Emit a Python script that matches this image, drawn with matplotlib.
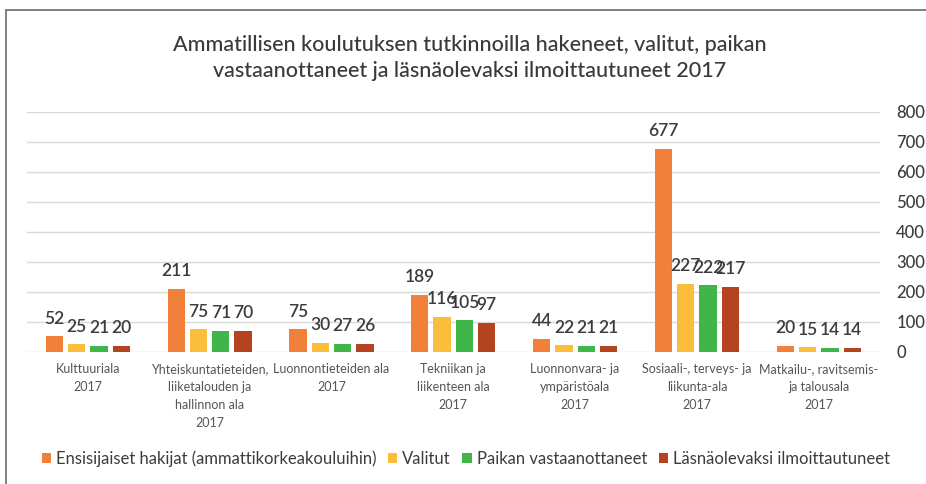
import numpy as np
import matplotlib.pyplot as plt
from matplotlib.patches import Rectangle

# data
categories = ['Kulttuuriala\n2017',
              'Yhteiskuntatieteiden,\nliiketalouden ja\nhallinnon ala\n2017',
              'Luonnontieteiden ala\n2017',
              'Tekniikan ja\nliikenteen ala\n2017',
              'Luonnonvara- ja\nympäristöala\n2017',
              'Sosiaali-, terveys- ja\nliikunta-ala\n2017',
              'Matkailu-, ravitsemis-\nja talousala\n2017']
ensisijaiset = [52, 211, 75, 189, 44, 677, 20]
valitut = [25, 75, 30, 116, 22, 227, 15]
vastaanottaneet = [21, 71, 27, 105, 21, 222, 14]
lasna = [20, 70, 26, 97, 21, 217, 14]
series_names = ['Ensisijaiset hakijat (ammattikorkeakouluihin)', 'Valitut',
                'Paikan vastaanottaneet', 'Läsnäolevaksi ilmoittautuneet']
yticks = [0, 100, 200, 300, 400, 500, 600, 700, 800]

title = ('Ammatillisen koulutuksen tutkinnoilla hakeneet, valitut, paikan\n'
         'vastaanottaneet ja läsnäolevaksi ilmoittautuneet 2017')

colors = ['#f0803a', '#fbbd3c', '#3fb54a', '#b4431f']
text_col = '#3c3c3c'

plt.rcParams['font.family'] = ['Lato', 'DejaVu Sans']

fig = plt.figure(figsize=(9.26, 4.84), dpi=100)
ax = fig.add_axes([0.029, 0.273, 0.921, 0.496])

# frame around the chart
fig.patches.append(Rectangle((6 / 926, -0.1), 1.2, 1 - 10 / 484 + 0.1,
                             transform=fig.transFigure, fill=False,
                             edgecolor='#6b6b6b', lw=1.2))

x = np.arange(len(categories))
w = 0.142
step = 0.183
all_series = [ensisijaiset, valitut, vastaanottaneet, lasna]
for i, vals in enumerate(all_series):
    pos = x + (i - 1.5) * step
    ax.bar(pos, vals, width=w, color=colors[i], label=series_names[i], zorder=3)
    for px, v in zip(pos, vals):
        ax.annotate(str(v), (px, v), xytext=(0, 7), textcoords='offset points',
                    ha='center', va='bottom', fontsize=12.5, color=text_col,
                    fontweight='semibold')

ax.set_xlim(-0.5, len(categories) - 0.5)
ax.set_ylim(0, 800)
ax.set_yticks(yticks)
ax.yaxis.tick_right()
ax.tick_params(axis='y', length=0, pad=12, labelsize=12, labelcolor=text_col)
for lbl in ax.get_yticklabels():
    lbl.set_fontweight('medium')
ax.set_xticks(x)
ax.set_xticklabels(categories, fontsize=9, color='#555555', linespacing=1.6)
ax.tick_params(axis='x', length=0, pad=8)
ax.grid(axis='y', color='#d9d9d9', lw=1, zorder=0)
for s in ax.spines.values():
    s.set_visible(False)

fig.text(0.507, 0.880, title, ha='center', va='center', fontsize=15.5,
         color='#3a3a3a', linespacing=1.35, fontweight='medium')

fig.legend(loc='center', bbox_to_anchor=(0.503, 0.052), ncol=4, frameon=False,
           fontsize=12, handlelength=0.55, handleheight=0.55, handletextpad=0.3,
           columnspacing=0.7, labelcolor=text_col)

fig.savefig('out.png', dpi=100)
